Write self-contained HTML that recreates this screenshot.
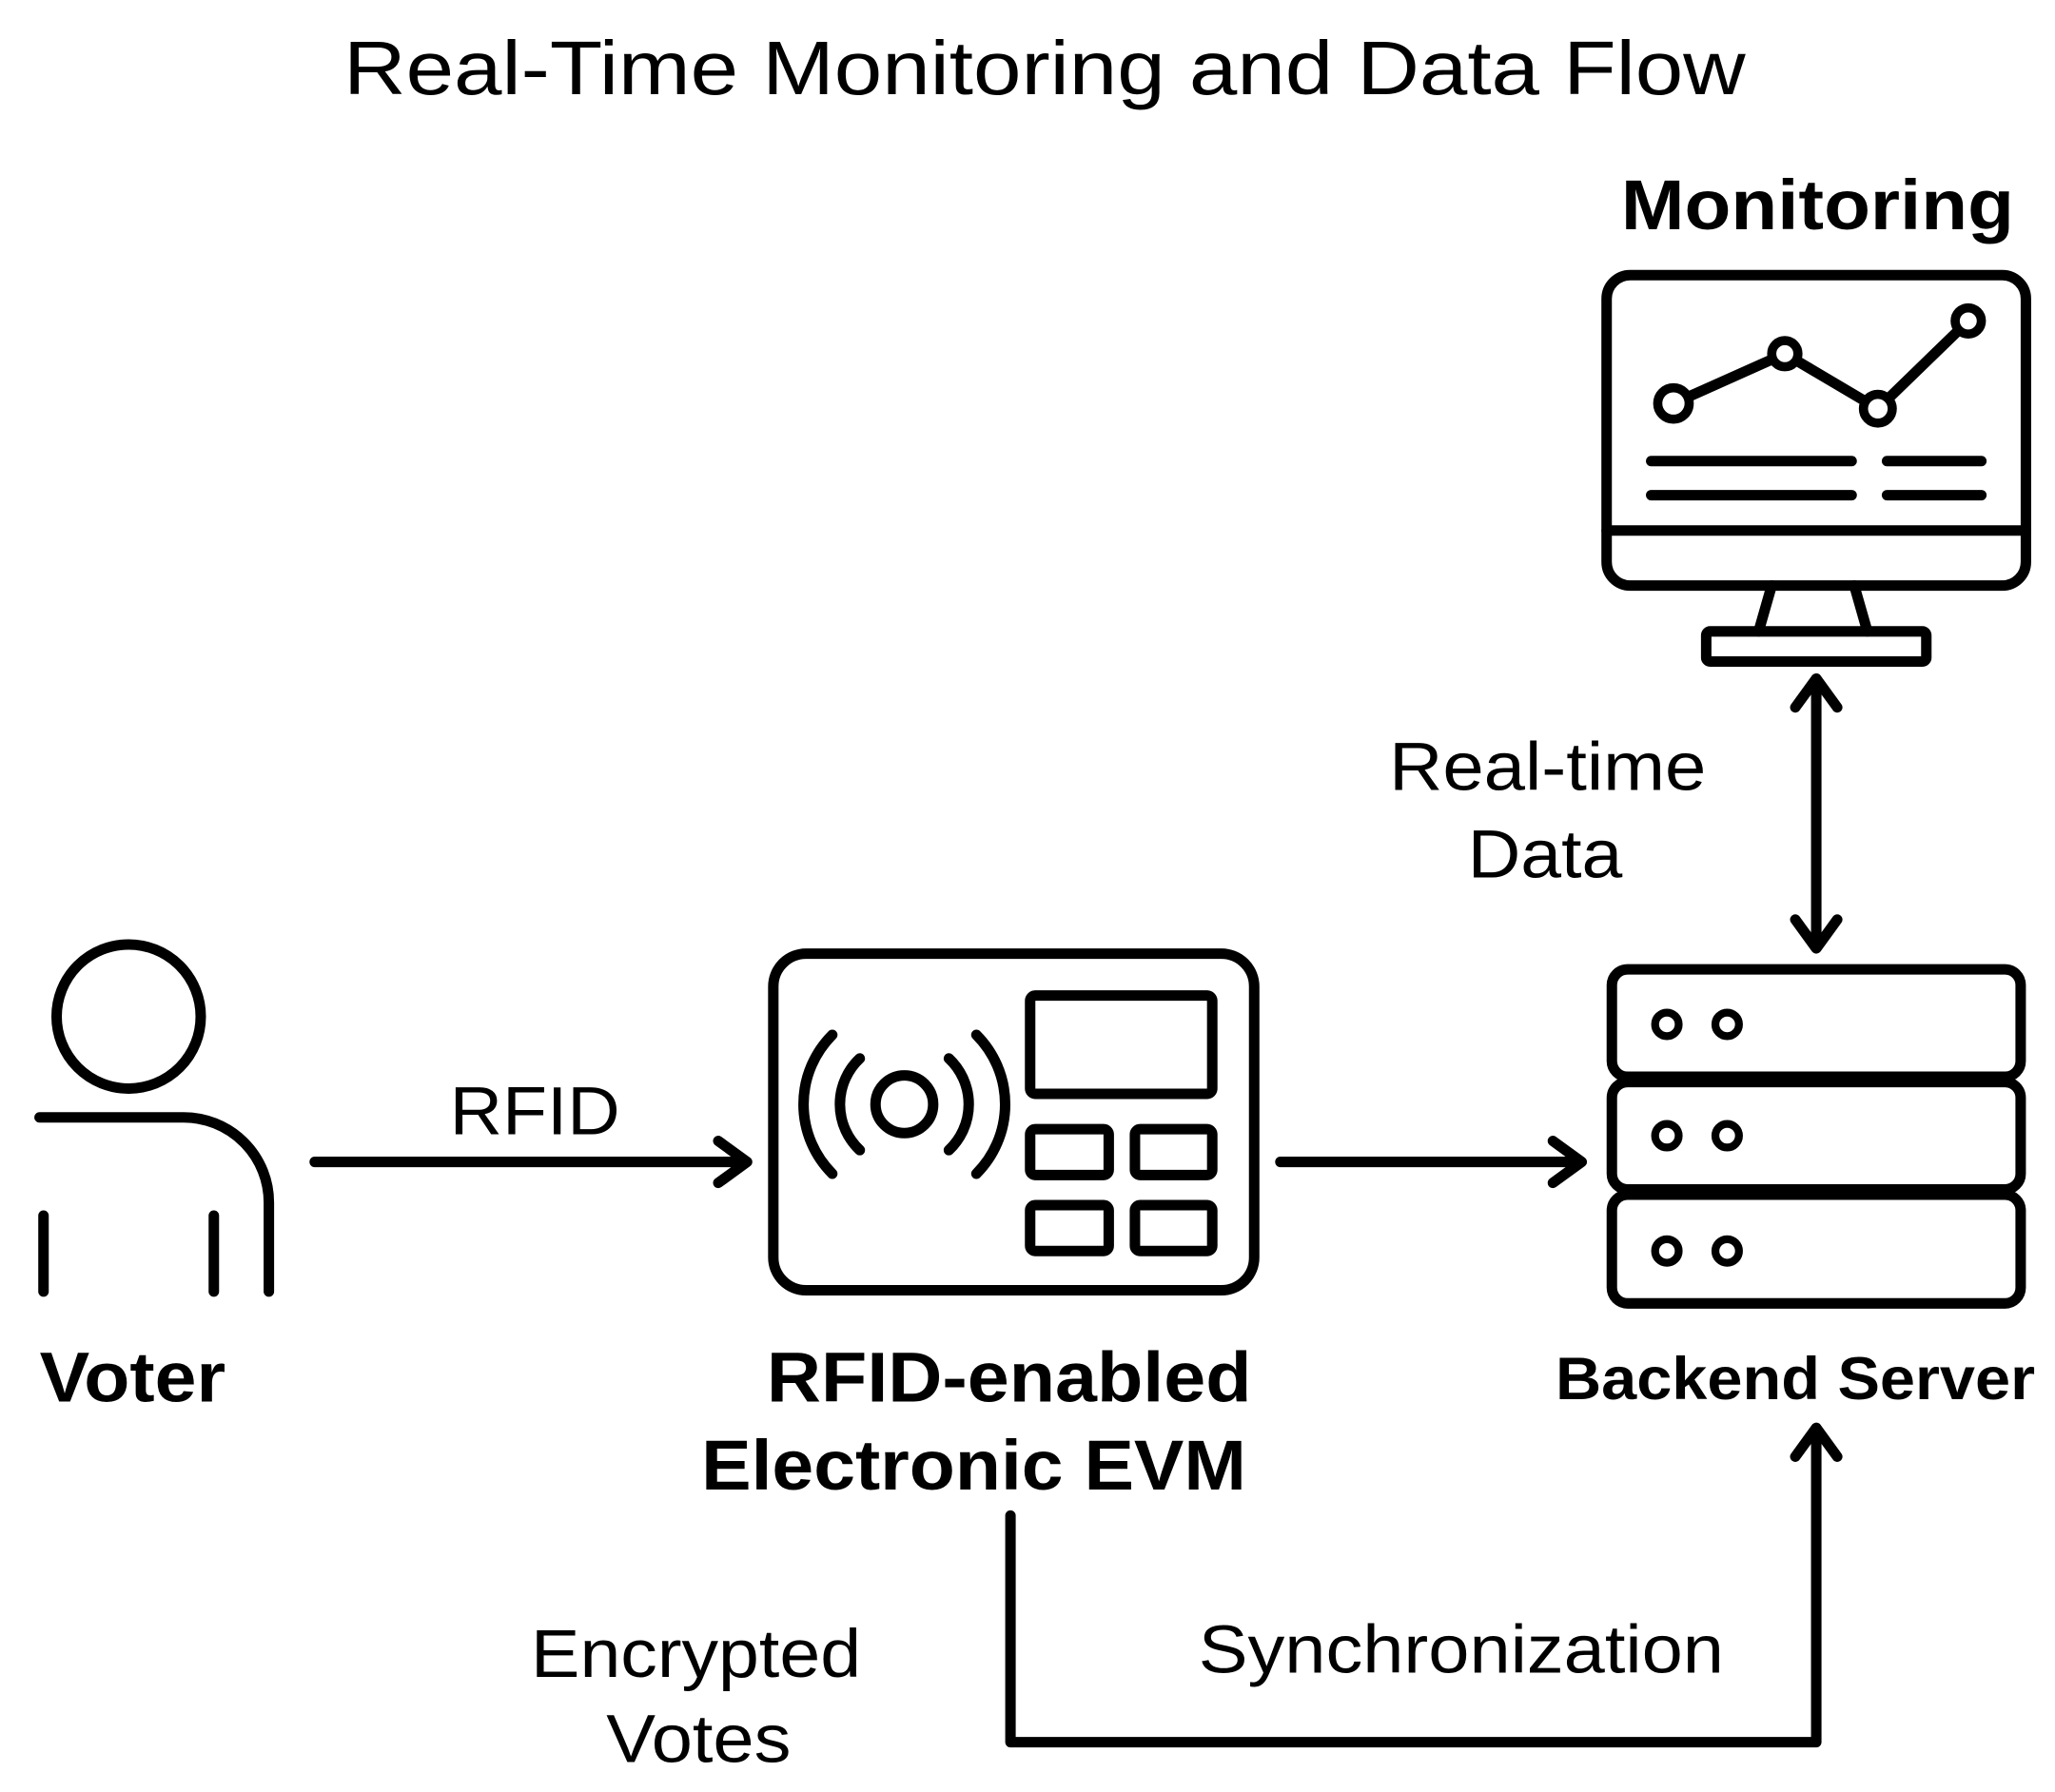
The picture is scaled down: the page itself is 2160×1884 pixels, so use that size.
<!DOCTYPE html>
<html><head><meta charset="utf-8"><style>
html,body{margin:0;padding:0;background:#fff;}
svg{display:block;}
text{font-family:"Liberation Sans",sans-serif;fill:#000;}
</style></head><body>
<svg width="2160" height="1884" viewBox="0 0 1568 1368" xmlns="http://www.w3.org/2000/svg">
<rect width="1568" height="1368" fill="#fff"/>
<text x="797" y="72" font-size="58" text-anchor="middle" textLength="1070" lengthAdjust="spacingAndGlyphs">Real-Time Monitoring and Data Flow</text>
<text x="1387" y="175" font-size="54" font-weight="bold" text-anchor="middle" textLength="300" lengthAdjust="spacingAndGlyphs">Monitoring</text>

<g fill="none" stroke="#000" stroke-width="8" stroke-linecap="round" stroke-linejoin="round">
<rect x="1226" y="210" width="320" height="237" rx="18"/>
<line x1="1226" y1="405" x2="1546" y2="405"/>
<line x1="1352" y1="447" x2="1342" y2="482"/>
<line x1="1415" y1="447" x2="1425" y2="482"/>
<rect x="1302" y="482" width="168" height="23" rx="3"/>
<polyline points="1277,308 1362,270 1433,312 1502,245"/>
<line x1="1260" y1="352" x2="1413" y2="352"/>
<line x1="1440" y1="352" x2="1512" y2="352"/>
<line x1="1260" y1="378" x2="1413" y2="378"/>
<line x1="1440" y1="378" x2="1512" y2="378"/>
<line x1="1386" y1="522" x2="1386" y2="720"/>
<polyline points="1370,540 1386,518 1402,540"/>
<polyline points="1370,702 1386,724 1402,702"/>
<rect x="1230" y="740" width="312" height="82" rx="12"/>
<rect x="1230" y="826" width="312" height="82" rx="12"/>
<rect x="1230" y="912" width="312" height="83" rx="12"/>
<circle cx="98" cy="776" r="55"/>
<path d="M30,853 L140,853 A65,65 0 0 1 205,918 L205,986"/>
<line x1="33" y1="928" x2="33" y2="986"/>
<line x1="163" y1="928" x2="163" y2="986"/>
<line x1="240" y1="887" x2="566" y2="887"/>
<polyline points="548,871 570,887 548,903"/>
<rect x="590" y="728" width="367" height="257" rx="25"/>
<rect x="786" y="760" width="139" height="75" rx="4"/>
<rect x="786" y="862" width="60" height="35" rx="4"/>
<rect x="866" y="862" width="59" height="35" rx="4"/>
<rect x="786" y="920" width="60" height="35" rx="4"/>
<rect x="866" y="920" width="59" height="35" rx="4"/>
<circle cx="690" cy="843" r="22"/>
<path d="M656,808 A48,48 0 0 0 656,878"/>
<path d="M724,808 A48,48 0 0 1 724,878"/>
<path d="M635,790 A75,75 0 0 0 635,896"/>
<path d="M745,790 A75,75 0 0 1 745,896"/>
<line x1="977" y1="887" x2="1203" y2="887"/>
<polyline points="1185,871 1207,887 1185,903"/>
<polyline points="771,1157 771,1330 1386,1330 1386,1094"/>
<polyline points="1370,1112 1386,1090 1402,1112"/>
</g>
<g fill="#fff" stroke="#000" stroke-width="7">
<circle cx="1277" cy="308" r="12"/>
<circle cx="1362" cy="270" r="10"/>
<circle cx="1433" cy="312" r="11"/>
<circle cx="1502" cy="245" r="10"/>
</g>
<g fill="none" stroke="#000" stroke-width="6">
<circle cx="1272" cy="782" r="9"/><circle cx="1318" cy="782" r="9"/>
<circle cx="1272" cy="867" r="9"/><circle cx="1318" cy="867" r="9"/>
<circle cx="1272" cy="955" r="9"/><circle cx="1318" cy="955" r="9"/>
</g>

<text x="1181" y="603" font-size="52" text-anchor="middle" textLength="242" lengthAdjust="spacingAndGlyphs">Real-time</text>
<text x="1179" y="670" font-size="52" text-anchor="middle" textLength="118" lengthAdjust="spacingAndGlyphs">Data</text>
<text x="1370" y="1068" font-size="46" font-weight="bold" text-anchor="middle" textLength="366" lengthAdjust="spacingAndGlyphs">Backend Server</text>
<text x="30" y="1070" font-size="54" font-weight="bold" textLength="142" lengthAdjust="spacingAndGlyphs">Voter</text>
<text x="408" y="866" font-size="52" text-anchor="middle" textLength="130" lengthAdjust="spacingAndGlyphs">RFID</text>
<text x="770" y="1070" font-size="54" font-weight="bold" text-anchor="middle" textLength="370" lengthAdjust="spacingAndGlyphs">RFID-enabled</text>
<text x="743" y="1137" font-size="54" font-weight="bold" text-anchor="middle" textLength="416" lengthAdjust="spacingAndGlyphs">Electronic EVM</text>
<text x="531" y="1280" font-size="52" text-anchor="middle" textLength="252" lengthAdjust="spacingAndGlyphs">Encrypted</text>
<text x="533" y="1345" font-size="52" text-anchor="middle" textLength="141" lengthAdjust="spacingAndGlyphs">Votes</text>
<text x="1115" y="1277" font-size="52" text-anchor="middle" textLength="401" lengthAdjust="spacingAndGlyphs">Synchronization</text>
</svg>
</body></html>
